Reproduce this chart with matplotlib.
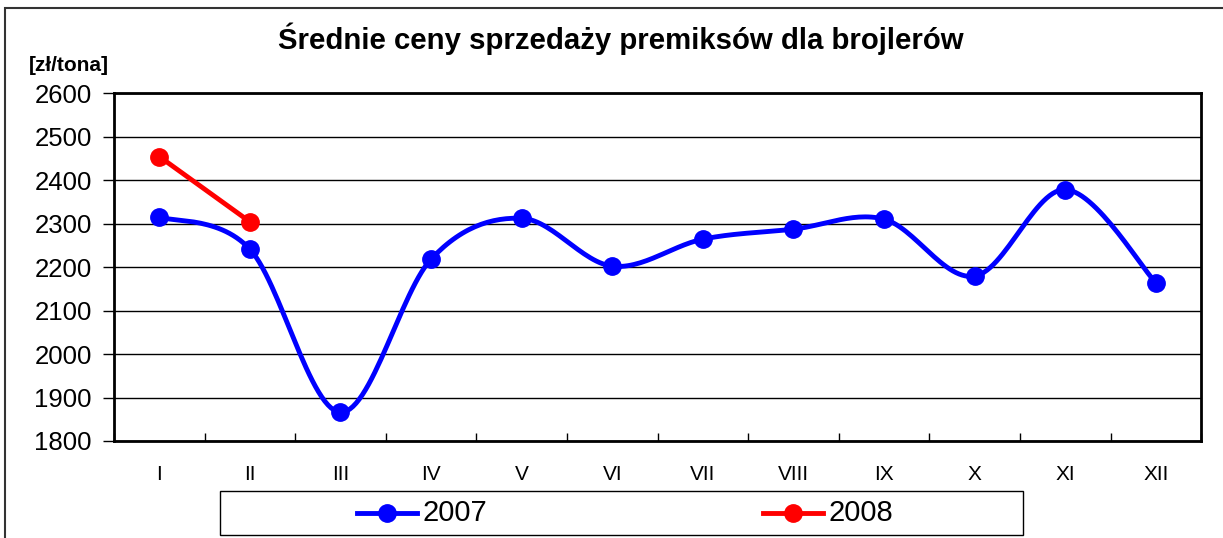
import numpy as np
import matplotlib.pyplot as plt
from matplotlib.patches import Rectangle
from matplotlib.lines import Line2D

plt.rcParams['font.family'] = ['Liberation Sans', 'DejaVu Sans']

# ── Data ────────────────────────────────────────────────────────────
months = ['I', 'II', 'III', 'IV', 'V', 'VI', 'VII', 'VIII', 'IX', 'X', 'XI', 'XII']
price_2007 = [2315, 2241, 1866, 2218, 2312, 2202, 2264, 2287, 2310, 2179, 2378, 2164]
price_2008 = [2454, 2304]

title = 'Średnie ceny sprzedaży premiksów dla brojlerów'
unit = '[zł/tona]'


def smooth(x, y, n=30):
    # Excel-like smoothed line: cubic Bezier with Catmull-Rom tangents
    x = np.asarray(x, float)
    y = np.asarray(y, float)
    if len(x) < 3:
        return x, y
    px = np.concatenate([[x[0]], x, [x[-1]]])
    py = np.concatenate([[y[0]], y, [y[-1]]])
    t = np.linspace(0, 1, n)
    xs, ys = [], []
    for i in range(1, len(px) - 2):
        p0 = np.array([px[i], py[i]])
        p3 = np.array([px[i + 1], py[i + 1]])
        c1 = p0 + (p3 - np.array([px[i - 1], py[i - 1]])) / 6
        c2 = p3 - (np.array([px[i + 2], py[i + 2]]) - p0) / 6
        b = (np.outer((1 - t) ** 3, p0) + np.outer(3 * (1 - t) ** 2 * t, c1)
             + np.outer(3 * (1 - t) * t ** 2, c2) + np.outer(t ** 3, p3))
        xs.append(b[:, 0])
        ys.append(b[:, 1])
    return np.concatenate(xs), np.concatenate(ys)


fig = plt.figure(figsize=(12.23, 5.38), dpi=100)
ax = fig.add_axes([0.0932, 0.1803, 0.8889, 0.6468])

x07 = np.arange(len(price_2007))
x08 = np.arange(len(price_2008))

sx, sy = smooth(x07, price_2007)
ax.plot(sx, sy, color='#0000FF', lw=3.5, zorder=3, solid_capstyle='round')
ax.plot(x07, price_2007, 'o', color='#0000FF', ms=12.5, zorder=4)
ax.plot(x08, price_2008, '-o', color='#FF0000', lw=3.5, ms=12.5, zorder=5)

ax.set_xlim(-0.5, len(months) - 0.5)
ax.set_ylim(1800, 2600)
ax.set_yticks(np.arange(1800, 2601, 100))
ax.tick_params(axis='y', labelsize=18.5, length=8, width=1, direction='out', pad=8)
ax.yaxis.grid(True, color='black', lw=1)
ax.set_axisbelow(True)

ax.set_xticks(np.arange(len(months) + 1) - 0.5)
ax.set_xticklabels([])
ax.set_xticks(x07, minor=True)
ax.set_xticklabels(months, minor=True, fontsize=15)
ax.tick_params(axis='x', which='major', direction='in', length=6, width=1)
ax.tick_params(axis='x', which='minor', length=0, pad=17)

for s in ax.spines.values():
    s.set_linewidth(2)
    s.set_color('black')

fig.text(0.508, 0.928, title, ha='center', va='center', fontsize=21.2, fontweight='bold')
fig.text(0.024, 0.878, unit, ha='left', va='center', fontsize=15, fontweight='bold')

# outer chart frame (clipped at right/bottom like the source)
fig.patches.append(Rectangle((5 / 1223, -0.1), 1.2, (538 - 8) / 538 + 0.1,
                             transform=fig.transFigure, fill=False,
                             edgecolor='#333333', lw=1.5))

# legend box
fig.patches.append(Rectangle((220 / 1223, 1 - 535 / 538), (1023 - 220) / 1223, 44 / 538,
                             transform=fig.transFigure, fill=False,
                             edgecolor='black', lw=1))
yl = 1 - 513 / 538
for x0, col, lab in [(357, '#0000FF', '2007'), (763, '#FF0000', '2008')]:
    fig.lines.append(Line2D([x0 / 1223, (x0 + 60) / 1223], [yl, yl], transform=fig.transFigure,
                            color=col, lw=3.5))
    fig.lines.append(Line2D([(x0 + 30) / 1223], [yl], transform=fig.transFigure,
                            color=col, marker='o', ms=12.5))
    fig.text((x0 + 65) / 1223, yl, lab, ha='left', va='center', fontsize=21)

fig.savefig('out.png', dpi=100)
